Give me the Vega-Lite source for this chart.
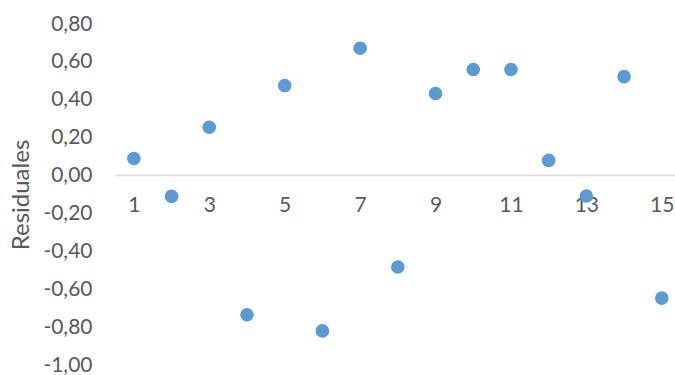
{
  "$schema": "https://vega.github.io/schema/vega-lite/v6.json",
  "autosize": "none",
  "width": 560,
  "height": 341,
  "padding": {"left": 115, "top": 24, "right": 0, "bottom": 10},
  "background": "white",
  "config": {"view": {"stroke": null}, "font": "Lato"},
  "data": {"values": [
    {"obs": 1, "res": 0.09},
    {"obs": 2, "res": -0.11},
    {"obs": 3, "res": 0.255},
    {"obs": 4, "res": -0.735},
    {"obs": 5, "res": 0.475},
    {"obs": 6, "res": -0.82},
    {"obs": 7, "res": 0.672},
    {"obs": 8, "res": -0.483},
    {"obs": 9, "res": 0.433},
    {"obs": 10, "res": 0.56},
    {"obs": 11, "res": 0.56},
    {"obs": 12, "res": 0.08},
    {"obs": 13, "res": -0.108},
    {"obs": 14, "res": 0.522},
    {"obs": 15, "res": -0.647}
  ]},
  "mark": {"type": "circle", "size": 185, "color": "#5b9bd5", "opacity": 1},
  "encoding": {
    "x": {
      "field": "obs", "type": "quantitative",
      "scale": {"domain": [0.5, 15.35], "nice": false, "zero": false},
      "axis": {
        "title": null, "values": [1, 3, 5, 7, 9, 11, 13, 15],
        "offset": -190, "grid": false, "ticks": false,
        "domainColor": "#d9d9d9", "domainWidth": 1.5,
        "labelPadding": 19, "labelFontSize": 21, "labelColor": "#595959",
        "labelFont": "Lato"
      }
    },
    "y": {
      "field": "res", "type": "quantitative",
      "scale": {"domain": [-1, 0.8], "nice": false, "zero": false},
      "axis": {
        "title": "Residuales", "titleFontSize": 24, "titleFontWeight": "normal",
        "titleColor": "#595959", "titleFont": "Lato", "titlePadding": 9,
        "values": [-1, -0.8, -0.6, -0.4, -0.2, 0, 0.2, 0.4, 0.6, 0.8],
        "labelExpr": "replace(replace(format(datum.value, '.2f'), '.', ','), '\u2212', '-')",
        "grid": false, "ticks": false, "domain": false,
        "labelPadding": 23, "labelFontSize": 21, "labelColor": "#595959",
        "labelFont": "Lato"
      }
    }
  }
}
